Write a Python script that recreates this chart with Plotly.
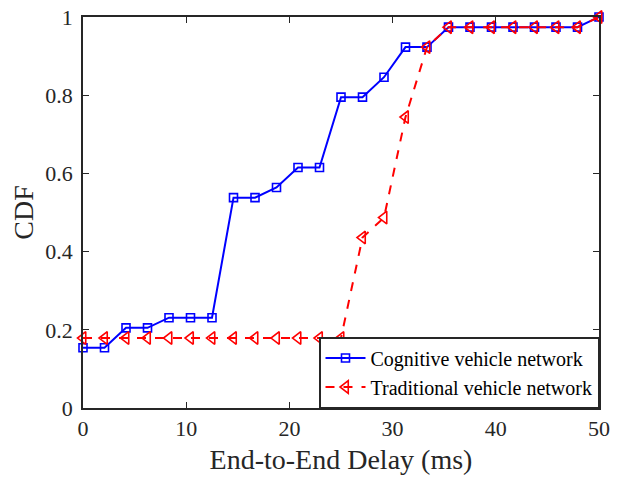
import numpy as np
import plotly.graph_objects as go

delay = np.linspace(0, 50, 25)
cognitive = [0.154, 0.154, 0.205, 0.205, 0.231, 0.231, 0.231, 0.538, 0.538, 0.564,
             0.615, 0.615, 0.795, 0.795, 0.846, 0.923, 0.923, 0.974, 0.974, 0.974,
             0.974, 0.974, 0.974, 0.974, 1.0]
traditional = [0.179, 0.179, 0.179, 0.179, 0.179, 0.179, 0.179, 0.179, 0.179, 0.179,
               0.179, 0.179, 0.179, 0.436, 0.487, 0.744, 0.923, 0.974, 0.974, 0.974,
               0.974, 0.974, 0.974, 0.974, 1.0]
x_ticks = [0, 10, 20, 30, 40, 50]
y_ticks = [0, 0.2, 0.4, 0.6, 0.8, 1]
y_labels = ["0", "0.2", "0.4", "0.6", "0.8", "1"]

FONT = "Liberation Serif"
DARK = "#262626"

fig = go.Figure()
fig.add_trace(go.Scatter(
    x=delay, y=cognitive, mode="lines+markers", name="Cognitive vehicle network",
    line=dict(color="#0000ff", width=2), cliponaxis=False,
    marker=dict(symbol="square-open", size=8, color="#0000ff", line=dict(width=1.6)),
))
fig.add_trace(go.Scatter(
    x=delay, y=traditional, mode="lines+markers", name="Traditional vehicle network",
    line=dict(color="#ff0000", width=2, dash="dash"), cliponaxis=False,
    marker=dict(symbol="triangle-left-open", size=11, color="#ff0000", line=dict(width=1.6)),
))

axis_common = dict(
    showline=True, linecolor=DARK, linewidth=1.5, mirror="ticks",
    ticks="inside", ticklen=6, tickwidth=1.2, tickcolor=DARK,
    showgrid=False, zeroline=False,
    tickfont=dict(family=FONT, size=22, color=DARK),
)
fig.update_xaxes(range=[0, 50], tickvals=x_ticks,
                 title=dict(text="End-to-End Delay (ms)", font=dict(family=FONT, size=28, color=DARK), standoff=9),
                 **axis_common)
fig.update_yaxes(range=[0, 1], tickvals=y_ticks, ticktext=y_labels, ticklabelstandoff=4,
                 title=dict(text="CDF", font=dict(family=FONT, size=28, color=DARK), standoff=4),
                 **axis_common)

fig.update_layout(
    width=621, height=478,
    margin=dict(l=83, r=22, t=17, b=70, autoexpand=False),
    plot_bgcolor="white", paper_bgcolor="white",
    legend=dict(x=1, y=0, xanchor="right", yanchor="bottom",
                bgcolor="white", bordercolor=DARK, borderwidth=1.5,
                font=dict(family=FONT, size=20, color="black"),
                tracegroupgap=0, itemwidth=40),
    showlegend=True,
)

fig.write_html("out.html", config={"displayModeBar": False},
               post_script="document.body.style.margin='0';document.body.style.padding='0';")
